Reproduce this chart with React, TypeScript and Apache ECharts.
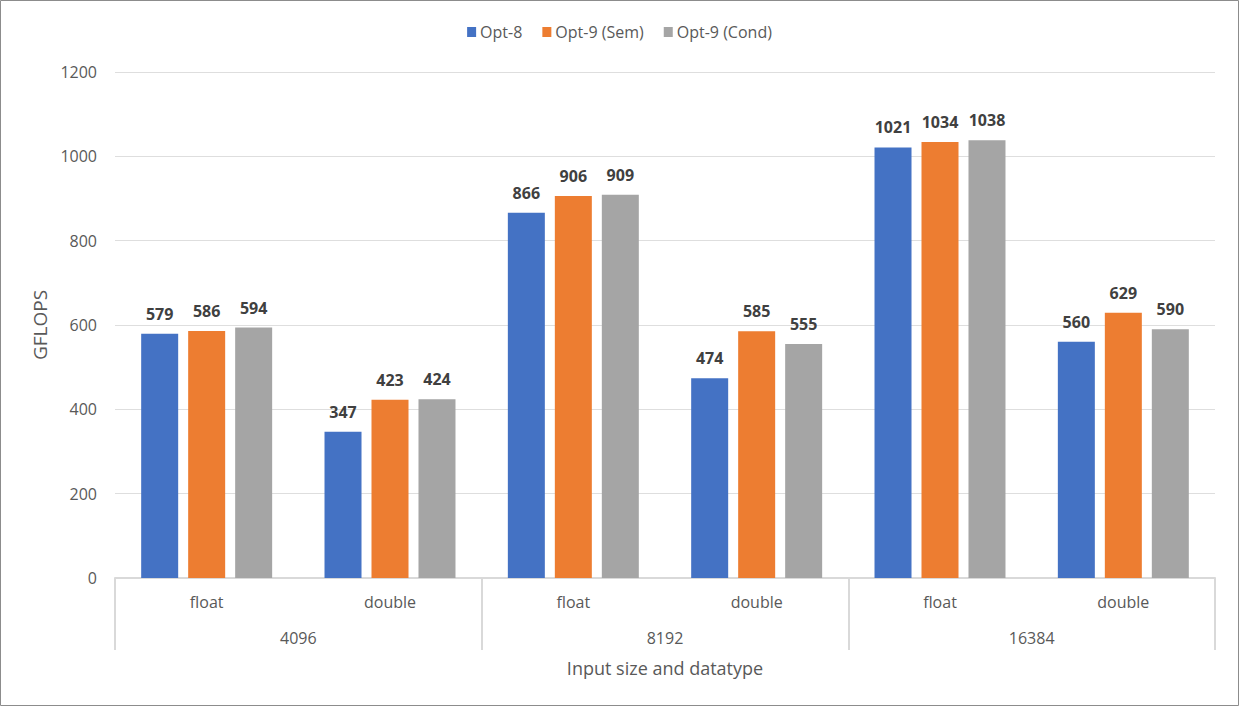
import React, { useEffect, useRef } from "react";
import * as echarts from "echarts";

const subCategories = ["float", "double", "float", "double", "float", "double"];
const sizeGroups = ["4096", "8192", "16384"];
const seriesNames = ["Opt-8", "Opt-9 (Sem)", "Opt-9 (Cond)"];
const opt8 = [579, 347, 866, 474, 1021, 560];
const opt9Sem = [586, 423, 906, 585, 1034, 629];
const opt9Cond = [594, 424, 909, 555, 1038, 590];
const yTicks = { min: 0, max: 1200, interval: 200 };
const colors = ["#4472C4", "#ED7D31", "#A5A5A5"];

const FONT = "Open Sans";
const TEXT = "#595959";

export default function App() {
  const ref = useRef<HTMLDivElement>(null);
  useEffect(() => {
    document.body.style.margin = "0";
    if (!ref.current) return;
    const chart = echarts.init(ref.current, null, { renderer: "svg" });
    const data = [opt8, opt9Sem, opt9Cond];
    chart.setOption({
      animation: false,
      textStyle: { fontFamily: FONT },
      graphic: [
        {
          type: "rect",
          shape: { x: 0.5, y: 0.5, width: 1238, height: 705 },
          style: { fill: "none", stroke: "#8c8c8c", lineWidth: 1 },
          silent: true,
        },
      ],
      legend: {
        top: 19,
        left: "center",
        itemWidth: 9,
        itemHeight: 10,
        itemGap: 20,
        icon: "rect",
        textStyle: { color: TEXT, fontSize: 16, fontFamily: FONT, padding: [0, 0, 0, -1] },
        data: seriesNames,
      },
      grid: { left: 115, right: 24, top: 72, bottom: 128 },
      xAxis: [
        {
          type: "category",
          data: subCategories,
          axisLine: { show: true, lineStyle: { color: "#d9d9d9", width: 2 } },
          axisTick: { show: false },
          axisLabel: { color: TEXT, fontSize: 16, fontFamily: FONT, margin: 16 },
        },
        {
          type: "category",
          data: sizeGroups,
          position: "bottom",
          axisLine: { show: false },
          axisTick: { show: true, length: 72, lineStyle: { color: "#d9d9d9", width: 2 } },
          axisLabel: { color: TEXT, fontSize: 16, fontFamily: FONT, margin: 52 },
          name: "Input size and datatype",
          nameLocation: "middle",
          nameGap: 81,
          nameTextStyle: { color: TEXT, fontSize: 18, fontFamily: FONT },
        },
      ],
      yAxis: {
        type: "value",
        min: yTicks.min,
        max: yTicks.max,
        interval: yTicks.interval,
        axisLine: { show: false },
        axisTick: { show: false },
        splitLine: { lineStyle: { color: "#dedede", width: 1 } },
        axisLabel: {
          color: TEXT,
          fontSize: 16,
          fontFamily: FONT,
          margin: 18,
          formatter: (v: number) => String(v),
        },
        name: "GFLOPS",
        nameLocation: "middle",
        nameGap: 64,
        nameTextStyle: { color: TEXT, fontSize: 19, fontFamily: FONT },
      },
      series: seriesNames.map((name, i) => ({
        name,
        type: "bar",
        xAxisIndex: 0,
        data: data[i],
        barWidth: 37,
        barGap: "27%",
        itemStyle: { color: colors[i] },
        label: {
          show: true,
          position: "top",
          distance: 12,
          color: "#404040",
          fontWeight: "bold",
          fontSize: 16,
          fontFamily: FONT,
        },
      })),
    });
    return () => chart.dispose();
  }, []);
  return <div ref={ref} style={{ width: 1239, height: 706 }} />;
}
